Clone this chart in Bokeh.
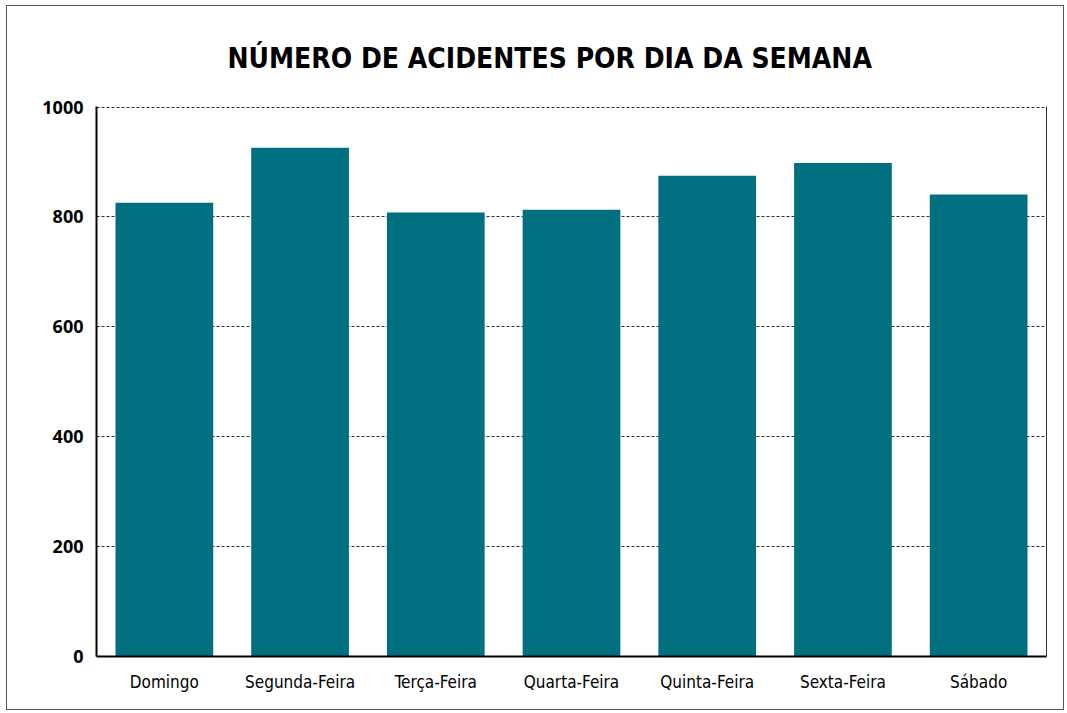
from bokeh.plotting import figure
from bokeh.models import LinearAxis, FixedTicker, Range1d, ColumnDataSource
from bokeh.embed import file_html
from bokeh.resources import INLINE

days = ["Domingo", "Segunda-Feira", "Terça-Feira", "Quarta-Feira",
        "Quinta-Feira", "Sexta-Feira", "Sábado"]
accidents = [826, 926, 808, 813, 875, 898, 841]
y_ticks = [0, 200, 400, 600, 800, 1000]
title_text = "NÚMERO DE ACIDENTES POR DIA DA SEMANA"

NARROW = "'DejaVu Sans Condensed', 'Liberation Sans', sans-serif"

source = ColumnDataSource(data=dict(day=days, count=accidents))

p = figure(x_range=days, y_range=Range1d(0, 1001),
           width=1058, height=705,
           output_backend="svg", toolbar_location=None,
           min_border_left=89, min_border_right=19,
           min_border_top=100, min_border_bottom=55)
p.styles = {"border": "1px solid #555555", "margin-left": "6px", "margin-top": "5px"}

p.title.text = title_text
p.title.align = "left"
p.title.offset = 131
p.title.text_font = NARROW
p.title.text_font_size = "28px"
p.title.text_font_style = "bold"
p.title.text_color = "#000000"
p.title.standoff = 64

p.vbar(x="day", top="count", width=0.72, source=source,
       fill_color="#007080", line_color=None)

p.outline_line_color = None
p.x_range.range_padding = 0

p.xgrid.grid_line_color = None
p.ygrid.grid_line_color = "#333333"
p.ygrid.grid_line_dash = "3 2"
p.ygrid.grid_line_width = 1

p.yaxis.ticker = FixedTicker(ticks=y_ticks)
p.yaxis.major_tick_line_color = None
p.yaxis.minor_tick_line_color = None
p.yaxis.axis_line_color = "#000000"
p.yaxis.axis_line_width = 2
p.yaxis.major_label_text_font = "Open Sans"
p.yaxis.major_label_text_font_size = "18px"
p.yaxis.major_label_text_font_style = "bold"
p.yaxis.major_label_text_color = "#000000"
p.yaxis.major_label_standoff = 7

p.xaxis.major_tick_line_color = None
p.xaxis.minor_tick_line_color = None
p.xaxis.axis_line_color = "#000000"
p.xaxis.axis_line_width = 2
p.xaxis.major_label_text_font = NARROW
p.xaxis.major_label_text_font_size = "17px"
p.xaxis.major_label_text_color = "#000000"
p.xaxis.major_label_standoff = 9

right_axis = LinearAxis(ticker=FixedTicker(ticks=[]),
                        major_tick_line_color=None,
                        minor_tick_line_color=None,
                        axis_line_color="#333333",
                        axis_line_width=1,
                        major_label_text_color=None)
p.add_layout(right_axis, "right")

open("out.html", "w").write(file_html(p, INLINE))
